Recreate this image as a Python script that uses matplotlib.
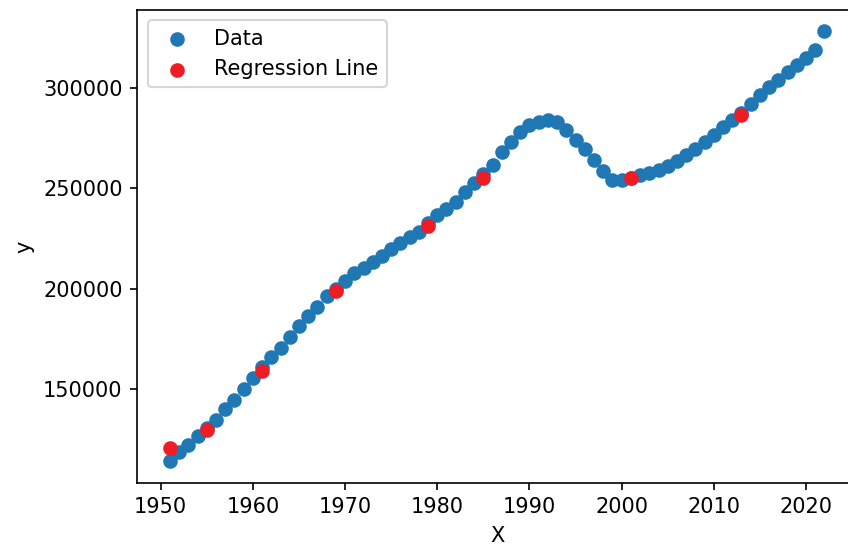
import matplotlib
matplotlib.use("Agg")
import matplotlib.pyplot as plt

years = list(range(1951, 2023))
values = [
    114000, 118500, 122000, 126400, 130600, 134700, 140100, 144700, 150000, 155400,  # 1951-1960
    160700, 165900, 170400, 175800, 181100, 186400, 191000, 196300, 199900, 203700,  # 1961-1970
    207900, 210100, 213400, 216200, 219500, 222800, 225500, 228300, 232400, 236600,  # 1971-1980
    239400, 243200, 248100, 252300, 256800, 261400, 267800, 273000, 277900, 281300,  # 1981-1990
    282900, 284100, 282900, 278800, 273800, 269700, 263900, 258600, 254000, 254000,  # 1991-2000
    255000, 256500, 257500, 259000, 261000, 263500, 266500, 269500, 273000, 276500,  # 2001-2010
    280500, 284000, 287500, 292000, 296500, 300500, 304000, 308000, 311500, 315000,  # 2011-2020
    319000, 328000,                                                                  # 2021-2022
]

# predicted points (test years)
pred_years = [1951, 1955, 1961, 1969, 1979, 1985, 2001, 2013]
pred_values = [120700, 129400, 158700, 198700, 231100, 254800, 254800, 286200]

fig = plt.figure(figsize=(848 / 150, 549 / 150), dpi=150)
ax = fig.add_axes([0.1618, 0.1208, 0.849, 0.861])

ax.scatter(years, values, color="#1f77b4", label="Data")
ax.scatter(pred_years, pred_values, color="#ee1c24", label="Regression Line")

ax.set_xlabel("X")
ax.set_ylabel("y")
ax.legend()

fig.savefig("out.png", dpi=150)
